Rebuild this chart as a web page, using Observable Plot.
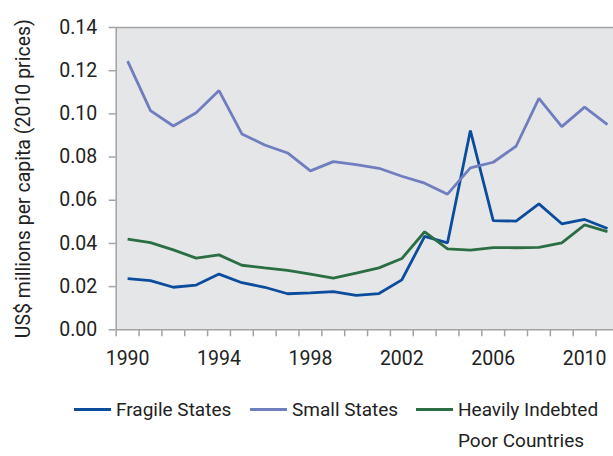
<!DOCTYPE html>
<html>
<head>
<meta charset="utf-8">
<script src="https://cdn.jsdelivr.net/npm/d3@7"></script>
<script src="https://cdn.jsdelivr.net/npm/@observablehq/plot@0.6"></script>
<style>
  html, body { margin: 0; padding: 0; background: #fff; overflow: hidden; }
  body { width: 613px; height: 456px; font-family: Roboto, "Open Sans", sans-serif; color: #222; }
  #legend { display: flex; align-items: flex-start; margin-left: 74px; margin-top: 14px; font-size: 19px; line-height: 31px; }
  .item { display: flex; align-items: flex-start; flex: none; }
  .item:nth-child(1) { width: 176px; }
  .item:nth-child(2) { width: 166px; }
  .sw { width: 37px; height: 3px; margin-top: 14px; margin-right: 5px; flex: none; }
  .lab { white-space: pre; }
</style>
</head>
<body>
<div id="chart"></div>
<div id="legend"></div>
<script>
const years = [1990,1991,1992,1993,1994,1995,1996,1997,1998,1999,2000,2001,2002,2003,2004,2005,2006,2007,2008,2009,2010,2011];
const fragileStates = [0.0237,0.0228,0.0197,0.0207,0.0258,0.0218,0.0197,0.0167,0.0171,0.0177,0.0159,0.0168,0.0231,0.0433,0.0403,0.0923,0.0506,0.0503,0.0583,0.0491,0.0511,0.0469];
const smallStates = [0.1244,0.1015,0.0944,0.1005,0.1108,0.0907,0.0856,0.0819,0.0736,0.0779,0.0765,0.0748,0.0711,0.0679,0.0628,0.0750,0.0776,0.0850,0.1072,0.0941,0.1031,0.0950];
const hipc = [0.0420,0.0404,0.0370,0.0332,0.0347,0.0299,0.0287,0.0275,0.0258,0.0239,0.0262,0.0287,0.0330,0.0454,0.0375,0.0369,0.0381,0.0380,0.0382,0.0403,0.0486,0.0455];
const seriesNames = ["Fragile States", "Small States", "Heavily Indebted Poor Countries"];
const legendLabels = ["Fragile States", "Small States", "Heavily Indebted\nPoor Countries"];
const seriesColors = ["#0b4c9c", "#6f7ebf", "#2c6e44"];
const yTicks = [0, 0.02, 0.04, 0.06, 0.08, 0.10, 0.12, 0.14];
const yearLabels = [1990, 1994, 1998, 2002, 2006, 2010];
const yTitle = "US$ millions per capita (2010 prices)";

const seriesValues = [fragileStates, smallStates, hipc];
const data = seriesNames.flatMap((name, i) => years.map((year, j) => ({series: name, year, value: seriesValues[i][j]})));
const boundaries = years.map(y => y - 0.5);

const axisColor = "#a3a3a3";
const font = 'Roboto, "Open Sans", sans-serif';

const chart = Plot.plot({
  width: 613,
  height: 380,
  marginTop: 27,
  marginBottom: 50.7,
  marginLeft: 115.7,
  marginRight: -5.4,
  style: {fontFamily: font, fontSize: "19.5px", color: "#222", background: "transparent"},
  x: {domain: [1989.5, 2011.5]},
  y: {domain: [0, 0.14]},
  color: {domain: seriesNames, range: seriesColors},
  marks: [
    Plot.frame({fill: "#e5e6e8", stroke: null}),
    Plot.ruleY([0.14], {stroke: axisColor, strokeWidth: 1.5}),
    Plot.ruleY([0], {stroke: axisColor, strokeWidth: 1.5}),
    Plot.ruleX([1989.5], {stroke: axisColor, strokeWidth: 1.5}),
    Plot.axisY({ticks: yTicks, tickFormat: d3.format(".2f"), tickSize: 7, tickPadding: 12, stroke: axisColor, strokeWidth: 1.5,
      label: yTitle, labelAnchor: "center", labelArrow: "none", labelOffset: 100, fill: "#222"}),
    Plot.axisX({ticks: boundaries, tickFormat: () => "", tickSize: 7, stroke: axisColor, strokeWidth: 1.5, label: null}),
    Plot.axisX({ticks: yearLabels, tickFormat: d3.format("d"), tickSize: 0, tickPadding: 21, label: null, fill: "#222"}),
    Plot.line(data, {x: "year", y: "value", z: "series", stroke: "series", strokeWidth: 2.8, strokeLinejoin: "miter", strokeLinecap: "butt"})
  ]
});
document.getElementById("chart").appendChild(chart);

const legend = document.getElementById("legend");
seriesNames.forEach((name, i) => {
  const item = document.createElement("div");
  item.className = "item";
  const sw = document.createElement("div");
  sw.className = "sw";
  sw.style.background = seriesColors[i];
  const lab = document.createElement("div");
  lab.className = "lab";
  lab.textContent = legendLabels[i];
  item.appendChild(sw);
  item.appendChild(lab);
  legend.appendChild(item);
});
</script>
</body>
</html>
